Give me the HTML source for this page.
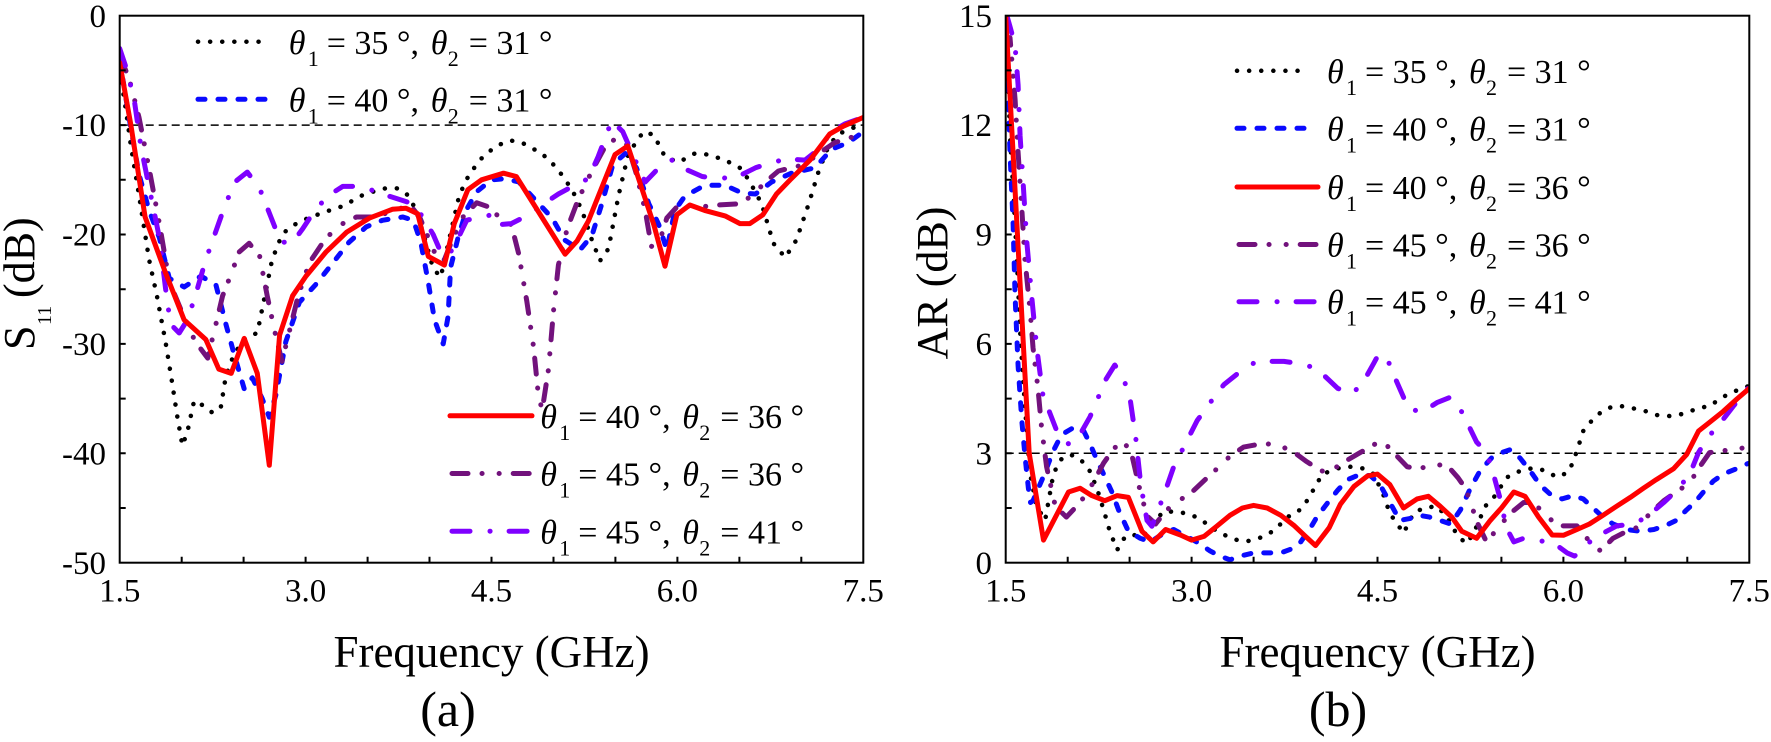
<!DOCTYPE html>
<html>
<head>
<meta charset="utf-8">
<style>
html,body{margin:0;padding:0;background:#fff;}
svg{display:block;}
text{font-family:"Liberation Serif","Times New Roman",serif;fill:#000;}
.tick{font-size:33px;}
.ttl{font-size:45px;}
.lg{font-size:34px;}
.it{font-size:34px;font-style:italic;}
.sb{font-size:22px;}
.c{fill:none;stroke-linejoin:round;}
.k{stroke:#000;stroke-width:4.5;stroke-dasharray:0.1 12;stroke-linecap:round;}
.b{stroke:#0a0aff;stroke-width:5;stroke-dasharray:7 13;stroke-linecap:round;}
.r{stroke:#ff0000;stroke-width:5;stroke-linecap:round;}
.p{stroke:#72127c;stroke-width:5;stroke-dasharray:16 14 0.1 17 0.1 14;stroke-linecap:round;}
.v{stroke:#7f00ff;stroke-width:5;stroke-dasharray:18 20 0.1 19;stroke-linecap:round;}
</style>
</head>
<body>
<svg width="1771" height="742" viewBox="0 0 1771 742" xmlns="http://www.w3.org/2000/svg">
<defs>
<clipPath id="ca"><rect x="119.7" y="15.7" width="743.6" height="547"/></clipPath>
<clipPath id="cb"><rect x="1005.7" y="15.7" width="743.6" height="547"/></clipPath>
</defs>

<!-- ================= LEFT PLOT (a) ================= -->
<line x1="119.7" y1="125.1" x2="863.3" y2="125.1" stroke="#000" stroke-width="1.5" stroke-dasharray="8 5"/>
<g clip-path="url(#ca)">
<polyline class="c k" points="119.7,70.4 125.9,109.8 130.9,145.9 139.0,195.1 149.1,259.7 156.9,295.8 165.5,341.7 172.4,384.4 177.4,417.2 182.4,445.6 187.5,431.4 194.1,400.8 200.9,404.1 212.6,412.8 220.8,407.4 225.9,375.6 234.2,353.7 246.1,337.3 257.3,333.0 264.2,299.0 272.1,259.7 282.0,234.5 290.7,226.8 302.6,220.3 322.9,212.6 342.8,206.1 362.6,195.1 382.4,188.6 396.1,188.0 406.0,192.9 415.9,209.3 425.8,242.2 433.2,268.4 440.7,277.2 449.3,238.9 459.3,195.1 469.2,174.3 482.8,156.8 496.4,145.9 510.1,140.4 521.8,142.6 541.8,153.5 556.8,167.8 572.0,189.6 582.0,210.4 591.9,240.0 600.0,260.8 608.5,248.7 618.4,196.2 628.4,153.5 643.4,131.7 653.8,134.9 665.0,156.8 678.6,162.3 694.7,153.5 708.4,154.6 725.1,160.1 741.8,168.9 751.7,185.3 761.7,203.9 773.4,243.3 785.2,257.5 796.4,240.0 808.7,203.9 818.7,171.0 828.6,145.9 838.5,133.9 852.1,128.4 863.3,122.9"/>
<polyline class="c b" points="119.7,59.5 129.0,117.4 139.0,174.3 149.1,210.4 159.4,237.8 169.3,278.3 184.1,287.0 200.9,276.1 215.9,284.8 225.9,324.2 233.7,352.7 244.2,388.8 252.3,377.8 262.2,398.6 269.3,417.2 275.8,395.3 285.8,341.7 299.4,302.3 315.5,284.8 332.9,262.9 349.0,242.2 366.3,226.8 382.4,220.3 402.9,217.0 413.4,220.3 420.8,242.2 428.3,282.6 434.5,319.8 443.2,343.9 448.1,316.5 450.6,267.3 458.0,237.8 466.7,209.3 476.6,191.8 491.5,179.8 505.1,178.7 518.8,182.0 534.9,199.5 552.2,218.1 564.6,240.0 580.1,249.8 591.9,235.6 601.8,203.9 612.9,164.5 625.3,153.5 636.5,167.8 648.9,203.9 658.8,224.7 666.8,249.8 674.9,210.4 684.8,196.2 704.6,185.3 725.1,185.3 741.8,192.9 755.5,194.0 771.6,182.0 791.4,173.2 814.9,167.8 831.7,149.2 848.4,142.6 863.3,131.7"/>
<polyline class="c p" points="119.7,56.2 129.0,78.1 139.0,117.4 149.4,170.0 159.4,223.6 169.3,281.5 182.4,313.3 195.3,341.7 207.7,358.1 215.9,324.2 222.6,295.8 231.2,273.9 239.2,252.0 249.2,243.3 259.7,256.4 267.2,295.8 274.6,330.8 282.0,361.4 289.5,330.8 298.2,295.8 309.3,262.9 326.0,237.8 342.8,223.6 356.4,217.0 376.2,217.0 396.1,209.3 410.9,206.1 419.6,217.0 428.3,237.8 436.3,256.4 444.4,259.7 453.1,237.8 463.0,217.0 476.6,202.8 492.7,208.2 498.9,218.1 511.3,224.7 518.8,254.2 526.8,301.2 533.6,347.2 538.6,397.5 542.3,409.5 548.5,369.1 553.5,311.1 558.4,265.1 567.1,229.0 578.2,199.5 591.9,171.0 605.5,145.9 617.9,137.1 627.8,145.9 636.5,174.3 645.2,210.4 651.4,246.5 660.0,240.0 666.8,218.1 678.6,205.0 698.5,207.1 718.3,205.0 738.1,203.9 751.7,196.2 765.4,182.0 778.4,171.0 791.4,167.8 805.0,164.5 818.7,153.5 834.8,142.6 852.1,137.1 863.3,133.9"/>
<polyline class="c v" points="119.7,48.5 125.9,67.1 134.1,98.8 140.8,145.9 149.4,188.6 159.4,237.8 165.5,288.1 170.5,324.2 179.2,333.0 187.5,319.8 195.3,295.8 205.8,259.7 215.9,231.2 225.9,202.8 236.2,180.9 247.3,172.1 259.7,188.6 270.9,217.0 280.8,242.2 292.6,242.2 302.6,228.9 315.5,209.3 329.1,195.1 342.8,186.4 362.6,186.4 378.7,192.9 396.1,198.4 413.4,203.9 422.7,217.0 433.2,234.5 440.7,252.0 448.1,256.4 456.2,242.2 466.7,220.3 479.1,217.0 492.7,214.8 498.9,224.7 511.3,223.6 528.7,214.8 543.5,203.9 558.4,194.0 574.5,185.3 588.2,178.7 598.1,156.8 611.7,120.7 622.8,131.7 635.2,160.1 645.2,182.0 658.8,167.8 671.8,160.1 684.8,168.9 702.2,176.5 718.3,178.7 738.1,176.5 755.5,167.8 771.6,162.3 788.3,159.0 805.0,160.1 818.7,149.2 831.7,131.7 844.7,124.0 863.3,117.4"/>
<polyline class="c r" points="119.7,62.7 130.9,125.1 145.1,217.0 165.1,271.7 184.1,319.8 205.8,339.5 218.8,369.1 231.2,373.4 244.2,338.4 257.3,373.4 269.3,465.3 279.6,335.1 292.6,295.8 306.0,276.1 326.0,252.0 346.5,232.3 369.4,218.1 392.3,209.3 406.0,208.2 417.7,213.7 428.3,256.4 444.4,265.1 454.3,223.6 467.9,189.6 481.6,179.8 503.5,173.2 516.3,176.5 565.1,254.2 577.0,241.1 588.2,221.4 615.0,154.6 627.8,145.9 653.8,224.7 665.0,266.2 676.8,214.8 689.8,205.0 704.6,210.4 725.1,215.9 740.0,223.6 749.9,223.6 762.9,214.8 776.5,194.0 790.2,179.8 810.0,160.1 829.8,133.9 843.4,126.2 863.3,117.4"/>
</g>
<rect x="119.7" y="15.7" width="743.6" height="547" fill="none" stroke="#000" stroke-width="2"/>
<path d="M181.7,562.7v-6M243.6,562.7v-6M305.6,562.7v-6M367.6,562.7v-6M429.5,562.7v-6M491.5,562.7v-6M553.5,562.7v-6M615.4,562.7v-6M677.4,562.7v-6M739.4,562.7v-6M801.3,562.7v-6
M119.7,70.4h6M119.7,125.1h6M119.7,179.8h6M119.7,234.5h6M119.7,289.2h6M119.7,343.9h6M119.7,398.6h6M119.7,453.3h6M119.7,508.0h6" stroke="#000" stroke-width="2" fill="none"/>
<g class="tick" text-anchor="end">
<text x="106" y="27">0</text>
<text x="106" y="136">-10</text>
<text x="106" y="245.5">-20</text>
<text x="106" y="355">-30</text>
<text x="106" y="464.5">-40</text>
<text x="106" y="574">-50</text>
</g>
<g class="tick" text-anchor="middle">
<text x="119.7" y="601.5">1.5</text>
<text x="305.6" y="601.5">3.0</text>
<text x="491.5" y="601.5">4.5</text>
<text x="677.4" y="601.5">6.0</text>
<text x="863.3" y="601.5">7.5</text>
</g>
<text class="ttl" x="491.5" y="667" text-anchor="middle">Frequency (GHz)</text>
<text x="448" y="726" text-anchor="middle" style="font-size:50px">(a)</text>
<g transform="translate(34,350) rotate(-90)">
<text x="0" y="0" style="font-size:44px">S</text>
<text x="25" y="17" style="font-size:20px">11</text>
<text x="52" y="0" style="font-size:44px">(dB)</text>
</g>

<!-- left legend upper -->
<line x1="198" y1="41.7" x2="270" y2="41.7" class="c k"/>
<line x1="198" y1="99.3" x2="270" y2="99.3" class="c b"/>
<g transform="translate(291.7,54)">
<text class="it" x="-3" y="0">θ</text><text class="sb" x="16" y="12">1</text><text class="lg" x="35" y="0">= 35 °,</text>
<text class="it" x="139" y="0">θ</text><text class="sb" x="156" y="12">2</text><text class="lg" x="177" y="0">= 31 °</text>
</g>
<g transform="translate(291.7,111.5)">
<text class="it" x="-3" y="0">θ</text><text class="sb" x="16" y="12">1</text><text class="lg" x="35" y="0">= 40 °,</text>
<text class="it" x="139" y="0">θ</text><text class="sb" x="156" y="12">2</text><text class="lg" x="177" y="0">= 31 °</text>
</g>
<!-- left legend lower -->
<line x1="450" y1="415.8" x2="532" y2="415.8" class="c r"/>
<line x1="452" y1="473.5" x2="532" y2="473.5" class="c p"/>
<line x1="452" y1="531.2" x2="532" y2="531.2" class="c v"/>
<g transform="translate(543.3,428)">
<text class="it" x="-3" y="0">θ</text><text class="sb" x="16" y="12">1</text><text class="lg" x="35" y="0">= 40 °,</text>
<text class="it" x="139" y="0">θ</text><text class="sb" x="156" y="12">2</text><text class="lg" x="177" y="0">= 36 °</text>
</g>
<g transform="translate(543.3,485.7)">
<text class="it" x="-3" y="0">θ</text><text class="sb" x="16" y="12">1</text><text class="lg" x="35" y="0">= 45 °,</text>
<text class="it" x="139" y="0">θ</text><text class="sb" x="156" y="12">2</text><text class="lg" x="177" y="0">= 36 °</text>
</g>
<g transform="translate(543.3,543.4)">
<text class="it" x="-3" y="0">θ</text><text class="sb" x="16" y="12">1</text><text class="lg" x="35" y="0">= 45 °,</text>
<text class="it" x="139" y="0">θ</text><text class="sb" x="156" y="12">2</text><text class="lg" x="177" y="0">= 41 °</text>
</g>

<!-- ================= RIGHT PLOT (b) ================= -->
<line x1="1005.7" y1="453.3" x2="1749.3" y2="453.3" stroke="#000" stroke-width="1.5" stroke-dasharray="8 5"/>
<g clip-path="url(#cb)">
<polyline class="c k" points="1005.7,55.8 1008.2,81.3 1010.0,136.0 1013.1,187.1 1016.9,260.0 1020.1,331.1 1023.4,384.0 1026.8,431.4 1030.1,474.1 1036.7,506.2 1045.1,520.4 1053.4,474.1 1060.2,459.9 1070.1,454.4 1080.1,459.1 1088.7,468.6 1096.9,488.3 1103.6,509.8 1109.8,531.3 1117.2,549.9 1125.3,536.4 1133.3,535.0 1143.3,536.4 1153.2,522.2 1163.7,511.6 1175.5,511.6 1186.6,513.5 1196.5,517.1 1207.1,524.0 1217.1,531.3 1227.5,536.4 1237.4,540.1 1247.4,541.2 1258.5,538.3 1267.2,535.0 1277.1,527.7 1287.0,517.1 1295.7,513.5 1303.7,506.2 1314.3,488.3 1322.3,474.1 1332.3,470.4 1342.8,466.8 1352.7,466.8 1363.8,468.6 1373.8,474.1 1383.7,495.6 1389.9,513.5 1398.6,525.9 1403.5,533.2 1413.4,513.5 1423.3,508.0 1437.0,506.2 1446.9,517.1 1455.1,531.3 1465.5,543.7 1472.9,535.0 1485.3,506.2 1495.2,495.6 1506.4,477.7 1516.3,472.3 1528.7,468.6 1539.8,468.6 1549.8,474.1 1559.7,477.0 1569.6,470.4 1577.0,450.7 1583.2,431.1 1591.9,420.5 1601.8,411.4 1613.0,406.3 1622.9,406.3 1635.3,408.8 1646.4,411.4 1656.3,415.0 1668.7,416.1 1678.6,415.0 1689.8,411.4 1699.7,407.7 1709.6,406.3 1719.5,399.0 1729.4,393.5 1741.8,388.4 1749.3,385.8"/>
<polyline class="c b" points="1005.7,63.1 1008.2,99.6 1010.0,152.4 1013.1,223.6 1015.1,296.5 1018.1,365.8 1021.8,420.5 1025.0,456.2 1028.4,488.3 1030.5,502.5 1033.0,500.7 1042.9,477.7 1053.4,450.7 1061.5,434.7 1073.9,427.4 1083.8,431.1 1090.0,443.8 1096.9,459.9 1103.6,474.1 1111.9,492.0 1118.5,509.8 1128.4,531.3 1140.3,538.3 1150.7,541.9 1163.7,533.2 1173.7,529.5 1186.6,536.4 1196.5,541.9 1210.2,551.0 1220.1,556.1 1230.0,559.8 1239.9,556.1 1253.6,552.9 1267.2,552.9 1280.8,552.9 1290.7,549.2 1300.7,541.9 1310.6,527.7 1316.8,517.1 1327.9,502.5 1337.8,490.1 1347.7,479.6 1360.8,474.1 1370.7,475.9 1380.0,484.7 1389.9,502.5 1399.8,520.4 1409.7,518.6 1419.6,515.3 1429.5,517.1 1440.1,520.4 1450.6,524.0 1460.5,509.8 1470.4,488.3 1480.3,470.4 1491.5,458.0 1501.4,452.6 1510.1,449.7 1520.0,458.0 1529.9,470.4 1539.8,484.7 1549.8,493.8 1562.1,498.9 1573.3,495.6 1583.2,498.9 1593.1,508.0 1603.0,517.1 1613.0,524.0 1626.6,529.5 1640.2,531.3 1653.9,529.5 1665.0,525.9 1676.2,520.4 1686.7,509.8 1694.7,502.5 1703.4,492.0 1713.4,481.0 1723.2,474.1 1736.9,468.6 1748.0,463.5"/>
<polyline class="c p" points="1005.7,44.9 1010.0,37.6 1015.1,99.6 1018.1,152.4 1021.8,209.0 1025.0,260.0 1030.5,314.7 1033.0,347.5 1037.9,387.7 1041.6,427.8 1046.6,466.8 1055.3,506.2 1066.4,517.1 1080.1,502.5 1090.0,488.3 1103.6,463.1 1113.5,448.9 1123.4,440.2 1132.1,456.2 1137.1,477.7 1142.0,498.9 1148.2,517.1 1155.6,524.0 1166.8,509.8 1181.7,498.9 1194.1,490.1 1205.2,479.6 1217.1,468.6 1230.0,456.2 1243.6,447.1 1257.3,444.5 1267.2,443.8 1280.8,446.0 1294.5,452.6 1306.8,461.7 1319.2,469.7 1327.9,473.4 1340.3,464.2 1358.9,453.3 1381.8,440.2 1393.6,452.6 1407.2,466.8 1419.6,468.6 1432.0,465.0 1446.9,465.0 1458.0,477.7 1465.5,488.3 1471.7,506.2 1477.9,524.0 1486.5,541.9 1510.1,513.5 1523.7,502.5 1533.6,502.5 1547.3,517.1 1559.7,525.9 1577.0,525.9 1586.9,538.3 1600.6,551.0 1613.0,538.3 1626.6,531.3 1636.5,527.7 1650.1,513.5 1663.8,500.7 1676.2,492.0 1689.8,482.8 1699.7,466.8 1709.6,452.6 1723.2,450.7 1736.9,448.9 1749.3,447.1"/>
<polyline class="c v" points="1006.9,15.7 1010.0,26.6 1015.0,44.9 1018.1,85.0 1020.1,136.0 1023.4,187.1 1026.8,241.8 1031.7,296.5 1036.7,347.5 1042.9,395.0 1058.4,435.1 1068.5,443.8 1081.9,431.1 1090.0,416.8 1099.9,393.5 1104.8,381.1 1114.8,365.0 1122.2,375.6 1129.6,395.3 1135.8,438.3 1140.8,484.7 1147.0,520.4 1151.9,526.2 1163.7,495.6 1173.7,466.8 1185.4,443.8 1197.2,420.5 1210.2,402.6 1223.8,384.7 1237.4,373.8 1253.6,363.2 1267.2,361.4 1283.9,361.4 1296.9,363.2 1311.8,366.9 1324.2,375.6 1337.8,388.4 1352.7,393.5 1363.8,381.1 1373.8,363.2 1378.7,354.1 1386.8,357.7 1394.8,377.4 1403.5,397.1 1408.5,409.5 1423.3,411.4 1437.0,402.6 1450.6,397.1 1460.5,409.5 1470.4,429.2 1476.6,442.0 1486.5,452.6 1493.4,474.1 1500.2,498.9 1506.4,527.7 1513.8,541.9 1523.7,538.3 1534.9,540.1 1547.3,541.9 1557.2,545.6 1567.1,552.9 1574.5,556.1 1583.2,549.2 1593.1,538.3 1603.0,533.2 1616.7,525.9 1633.4,524.0 1646.4,517.1 1663.8,502.5 1677.4,489.8 1689.8,474.1 1698.5,452.6 1707.1,438.3 1719.5,424.1 1733.2,406.3 1746.8,389.8 1749.3,386.5"/>
<polyline class="c r" points="1005.7,15.7 1029.2,453.3 1043.5,540.1 1068.5,492.0 1080.1,488.3 1091.8,495.6 1104.8,500.7 1117.2,495.6 1128.4,497.4 1142.0,531.3 1153.2,541.9 1165.6,529.5 1180.4,535.0 1191.6,540.1 1204.0,536.4 1217.1,525.9 1230.0,515.3 1242.4,508.0 1253.6,505.4 1267.2,508.0 1280.8,515.3 1294.5,525.9 1305.6,536.4 1315.5,545.6 1329.2,527.7 1340.3,504.4 1353.9,486.5 1367.6,475.9 1377.5,474.1 1389.9,484.7 1403.5,508.0 1417.1,498.9 1428.3,496.3 1440.1,506.2 1451.8,517.1 1461.8,531.3 1476.6,538.3 1490.3,520.4 1501.4,508.0 1513.8,492.0 1525.0,496.3 1538.6,517.1 1552.2,535.0 1563.4,535.3 1577.0,529.5 1589.4,524.0 1603.0,515.3 1616.7,506.2 1630.3,497.4 1643.3,488.3 1656.3,479.6 1673.7,468.6 1686.7,454.4 1698.5,431.1 1709.6,422.3 1723.2,411.4 1736.9,399.0 1749.3,388.4"/>
</g>
<rect x="1005.7" y="15.7" width="743.6" height="547" fill="none" stroke="#000" stroke-width="2"/>
<path d="M1067.7,562.7v-6M1129.6,562.7v-6M1191.6,562.7v-6M1253.6,562.7v-6M1315.5,562.7v-6M1377.5,562.7v-6M1439.5,562.7v-6M1501.4,562.7v-6M1563.4,562.7v-6M1625.4,562.7v-6M1687.3,562.7v-6
M1005.7,70.4h6M1005.7,125.1h6M1005.7,179.8h6M1005.7,234.5h6M1005.7,289.2h6M1005.7,343.9h6M1005.7,398.6h6M1005.7,453.3h6M1005.7,508.0h6" stroke="#000" stroke-width="2" fill="none"/>
<g class="tick" text-anchor="end">
<text x="992" y="27">15</text>
<text x="992" y="136">12</text>
<text x="992" y="245.5">9</text>
<text x="992" y="355">6</text>
<text x="992" y="464.5">3</text>
<text x="992" y="574">0</text>
</g>
<g class="tick" text-anchor="middle">
<text x="1005.7" y="601.5">1.5</text>
<text x="1191.6" y="601.5">3.0</text>
<text x="1377.5" y="601.5">4.5</text>
<text x="1563.4" y="601.5">6.0</text>
<text x="1749.3" y="601.5">7.5</text>
</g>
<text class="ttl" x="1377.5" y="667" text-anchor="middle">Frequency (GHz)</text>
<text x="1338" y="726" text-anchor="middle" style="font-size:50px">(b)</text>
<text transform="translate(947,283) rotate(-90)" text-anchor="middle" style="font-size:44px">AR (dB)</text>

<!-- right legend -->
<line x1="1237" y1="70.8" x2="1309" y2="70.8" class="c k"/>
<line x1="1237" y1="128.3" x2="1313" y2="128.3" class="c b"/>
<line x1="1237" y1="187.0" x2="1318" y2="187.0" class="c r"/>
<line x1="1239" y1="244.5" x2="1316" y2="244.5" class="c p"/>
<line x1="1239" y1="301.7" x2="1316" y2="301.7" class="c v"/>
<g transform="translate(1330,83)">
<text class="it" x="-3" y="0">θ</text><text class="sb" x="16" y="12">1</text><text class="lg" x="35" y="0">= 35 °,</text>
<text class="it" x="139" y="0">θ</text><text class="sb" x="156" y="12">2</text><text class="lg" x="177" y="0">= 31 °</text>
</g>
<g transform="translate(1330,140.5)">
<text class="it" x="-3" y="0">θ</text><text class="sb" x="16" y="12">1</text><text class="lg" x="35" y="0">= 40 °,</text>
<text class="it" x="139" y="0">θ</text><text class="sb" x="156" y="12">2</text><text class="lg" x="177" y="0">= 31 °</text>
</g>
<g transform="translate(1330,199)">
<text class="it" x="-3" y="0">θ</text><text class="sb" x="16" y="12">1</text><text class="lg" x="35" y="0">= 40 °,</text>
<text class="it" x="139" y="0">θ</text><text class="sb" x="156" y="12">2</text><text class="lg" x="177" y="0">= 36 °</text>
</g>
<g transform="translate(1330,256.5)">
<text class="it" x="-3" y="0">θ</text><text class="sb" x="16" y="12">1</text><text class="lg" x="35" y="0">= 45 °,</text>
<text class="it" x="139" y="0">θ</text><text class="sb" x="156" y="12">2</text><text class="lg" x="177" y="0">= 36 °</text>
</g>
<g transform="translate(1330,313.7)">
<text class="it" x="-3" y="0">θ</text><text class="sb" x="16" y="12">1</text><text class="lg" x="35" y="0">= 45 °,</text>
<text class="it" x="139" y="0">θ</text><text class="sb" x="156" y="12">2</text><text class="lg" x="177" y="0">= 41 °</text>
</g>
</svg>
</body>
</html>
